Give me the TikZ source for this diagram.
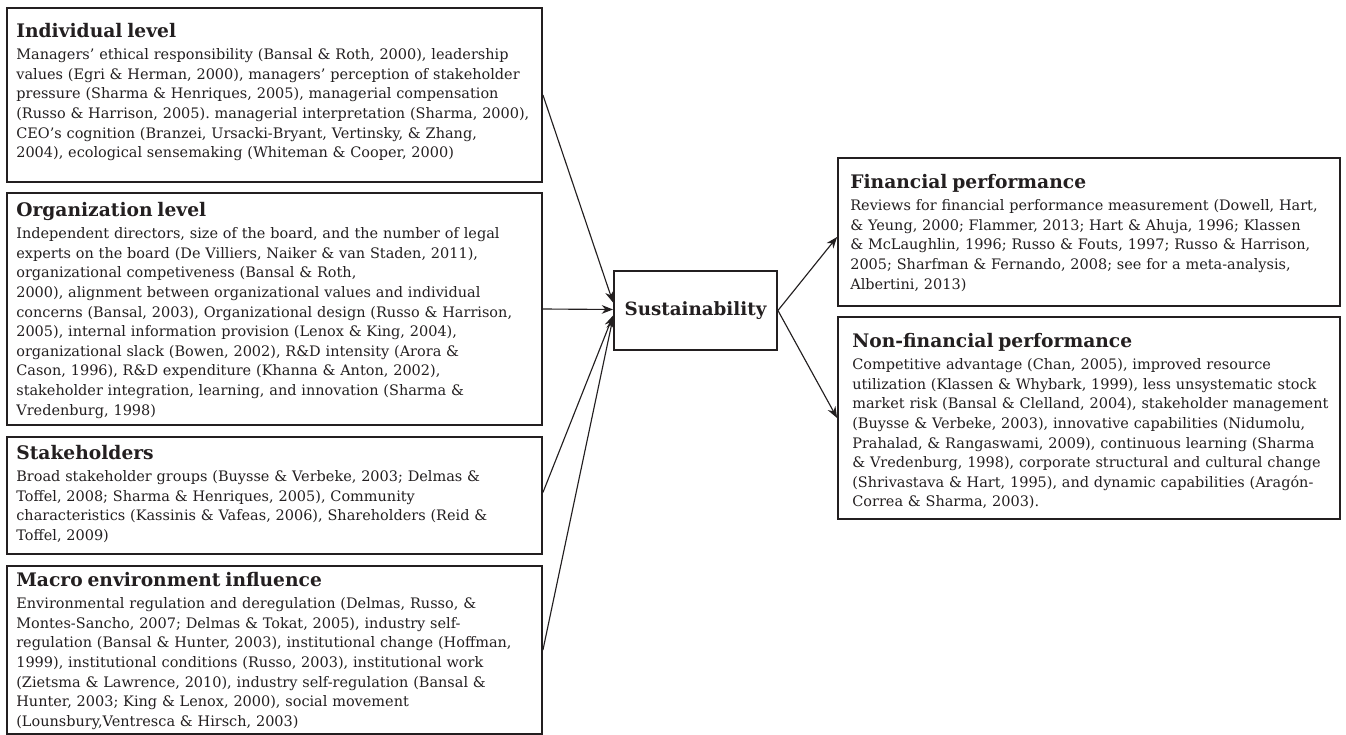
\documentclass[tikz,border=0pt]{standalone}
\usepackage{fontspec}
\setmainfont{DejaVu Serif}
\usetikzlibrary{arrows.meta,calc,fit}
\definecolor{ink}{HTML}{231F20}
\newcommand{\hdfont}{\fontsize{14}{17}\selectfont\bfseries}
\newcommand{\bdfont}{\fontsize{10.85}{14.7}\selectfont}
\newcommand{\hd}[1]{{\hdfont #1\par}\vspace{2pt}}
\frenchspacing
\begin{document}
\begin{tikzpicture}[x=0.75pt,y=-0.75pt,
  box/.style={draw=ink,line width=1.4pt,inner sep=0pt},
  txt/.style={anchor=north west,inner sep=0pt,text=ink,align=left,text width=560pt,font=\bdfont},
  arr/.style={draw=ink,line width=0.85pt,-{Stealth[length=8.5pt,width=6.5pt]}}]
\useasboundingbox (0,0) rectangle (1346,735);
\fill[white] (0,0) rectangle (1346,735);

% left boxes
\node[box,fit={(7,8)(542,182)}] (ind) {};
\node[box,fit={(7,193)(542,425)}] (org) {};
\node[box,fit={(7,437)(542,554)}] (stk) {};
\node[box,fit={(7,566)(542,734)}] (mac) {};
% centre
\node[box,fit={(614,271)(777,350)}] (sus) {};
\node[text=ink,font=\fontsize{13.7}{16}\selectfont\bfseries] (sust) at (sus.center) {Sustainability};
% right boxes
\node[box,fit={(838,158)(1340,306)}] (fin) {};
\node[box,fit={(838,317)(1340,519)}] (nfin) {};

\node[txt] (indt) at ($(ind.north west)+(10,16)$) {\hd{Individual level}
Managers' ethical responsibility (Bansal \& Roth, 2000), leadership\\
values (Egri \& Herman, 2000), managers' perception of stakeholder\\
pressure (Sharma \& Henriques, 2005), managerial compensation\\
(Russo \& Harrison, 2005). managerial interpretation (Sharma, 2000),\\
CEO's cognition (Branzei, Ursacki-Bryant, Vertinsky, \& Zhang,\\
2004), ecological sensemaking (Whiteman \& Cooper, 2000)};

\node[txt] (orgt) at ($(org.north west)+(10,10)$) {\hd{Organization level}
Independent directors, size of the board, and the number of legal\\
experts on the board (De Villiers, Naiker \& van Staden, 2011),\\
organizational competiveness (Bansal \& Roth,\\
2000), alignment between organizational values and individual\\
concerns (Bansal, 2003), Organizational design (Russo \& Harrison,\\
2005), internal information provision (Lenox \& King, 2004),\\
organizational slack (Bowen, 2002), R\&D intensity (Arora \&\\
Cason, 1996), R\&D expenditure (Khanna \& Anton, 2002),\\
stakeholder integration, learning, and innovation (Sharma \&\\
Vredenburg, 1998)};

\node[txt] (stkt) at ($(stk.north west)+(10,9)$) {\hd{Stakeholders}
Broad stakeholder groups (Buysse \& Verbeke, 2003; Delmas \&\\
Toffel, 2008; Sharma \& Henriques, 2005), Community\\
characteristics (Kassinis \& Vafeas, 2006), Shareholders (Reid \&\\
Toffel, 2009)};

\node[txt] (mact) at ($(mac.north west)+(10,7)$) {\hd{Macro environment influence}
Environmental regulation and deregulation (Delmas, Russo, \&\\
Montes-Sancho, 2007; Delmas \& Tokat, 2005), industry self-\\
regulation (Bansal \& Hunter, 2003), institutional change (Hoffman,\\
1999), institutional conditions (Russo, 2003), institutional work\\
(Zietsma \& Lawrence, 2010), industry self-regulation (Bansal \&\\
Hunter, 2003; King \& Lenox, 2000), social movement\\
(Lounsbury,Ventresca \& Hirsch, 2003)};

\node[txt] (fint) at ($(fin.north west)+(13,17)$) {\hd{Financial performance}
Reviews for financial performance measurement (Dowell, Hart,\\
\& Yeung, 2000; Flammer, 2013; Hart \& Ahuja, 1996; Klassen\\
\& McLaughlin, 1996; Russo \& Fouts, 1997; Russo \& Harrison,\\
2005; Sharfman \& Fernando, 2008; see for a meta-analysis,\\
Albertini, 2013)};

\node[txt] (nfint) at ($(nfin.north west)+(15,17)$) {\hd{Non-financial performance}
Competitive advantage (Chan, 2005), improved resource\\
utilization (Klassen \& Whybark, 1999), less unsystematic stock\\
market risk (Bansal \& Clelland, 2004), stakeholder management\\
(Buysse \& Verbeke, 2003), innovative capabilities (Nidumolu,\\
Prahalad, \& Rangaswami, 2009), continuous learning (Sharma\\
\& Vredenburg, 1998), corporate structural and cultural change\\
(Shrivastava \& Hart, 1995), and dynamic capabilities (Aragón-\\
Correa \& Sharma, 2003).};

% connectors
\coordinate (s1) at ($(sus.west)+(0,-8)$);
\coordinate (s2) at ($(sus.west)+(0,-1)$);
\coordinate (s3) at ($(sus.west)+(0,5)$);
\coordinate (s4) at ($(sus.west)+(0,7)$);
\draw[arr] (ind.east) -- (s1);
\draw[arr] (org.east) -- (s2);
\draw[arr] ($(stk.east)+(0,-3)$) -- (s3);
\draw[arr] (mac.east) -- (s4);
\draw[arr] (sus.east) -- ($(fin.west)+(0,5)$);
\draw[arr] (sus.east) -- (nfin.west);
\end{tikzpicture}
\end{document}
